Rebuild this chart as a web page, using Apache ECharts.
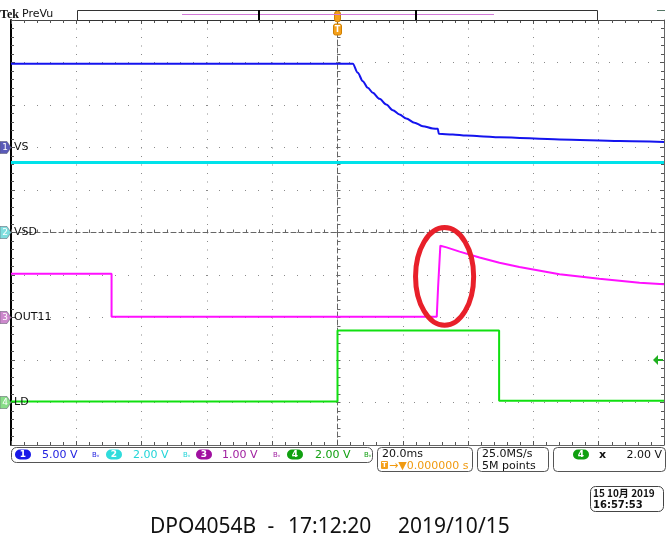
<!DOCTYPE html>
<html><head><meta charset="utf-8">
<script src="https://cdn.jsdelivr.net/npm/echarts@6/dist/echarts.min.js"></script>
<style>html,body{margin:0;padding:0;background:#fff}#c{width:666px;height:545px}</style>
</head><body><div id="c"></div>
<script>
// Horizontal: 20.0 ms/div, trigger at 0 ms. Vertical: divisions (-5..5)
const timeRange = [-100, 100];
const divRange = [-5, 5];

// CH1 (VS) 5.00 V/div, marker at +2 div
const ch1Time = [-100, 4.69, 6.22, 7.75, 9.28, 10.81, 12.86, 14.92, 16.94, 18.99, 21.04, 23.59, 26.13, 29.19, 30.72, 31.03, 35.31, 39.42, 43.49, 49.62, 68.0, 86.4, 100];
const ch1Volt = [9.85, 9.85, 8.79, 7.80, 7.02, 6.44, 5.73, 5.06, 4.39, 3.88, 3.41, 2.91, 2.51, 2.24, 2.20, 1.61, 1.53, 1.41, 1.33, 1.21, 0.94, 0.76, 0.65];
// CH2 (VSD) 2.00 V/div, marker at 0 div
const ch2Time = [-100, 100];
const ch2Volt = [3.3, 3.3];
// CH3 (OUT11) 1.00 V/div, marker at -2 div
const ch3Time = [-100, -69.2, -69.2, 30.4, 30.7, 30.8, 31.5, 33.4, 37.4, 43.5, 49.6, 55.7, 68.0, 80.2, 92.5, 100];
const ch3Volt = [1.03, 1.03, 0.02, 0.02, 0.05, 0.70, 1.69, 1.65, 1.55, 1.41, 1.29, 1.19, 1.02, 0.91, 0.82, 0.78];
// CH4 (LD) 2.00 V/div, marker at -4 div
const ch4Time = [-100, 0, 0, 49.5, 49.5, 100];
const ch4Volt = [0.05, 0.05, 3.39, 3.39, 0.08, 0.08];

const channels = [
  {name: 'VS',    num: '1', scale: 5, offset: 2,  color: '#1414ee', marker: '#5a5ab8', width: 2, smooth: 0.3, t: ch1Time, v: ch1Volt},
  {name: 'VSD',   num: '2', scale: 2, offset: 0,  color: '#00e2ea', marker: '#7fdede', width: 3, smooth: 0, t: ch2Time, v: ch2Volt},
  {name: 'OUT11', num: '3', scale: 1, offset: -2, color: '#ff10ff', marker: '#cc88cc', width: 2, smooth: 0, t: ch3Time, v: ch3Volt},
  {name: 'LD',    num: '4', scale: 2, offset: -4, color: '#10e010', marker: '#88dd88', width: 2, smooth: 0, t: ch4Time, v: ch4Volt}
];
const statusScales = ['5.00 V', '2.00 V', '1.00 V', '2.00 V'];
const statusColors = ['#2222e0', '#22d4d8', '#a020a0', '#12a012'];
const badgeColors = ['#1818e8', '#30dcdc', '#a010a0', '#10a010'];
const triggerLevelVolt = 2.0; // CH4
const circleCenter = [32.8, -1.035];
const circleRadius = [8.9, 1.15];

const chart = echarts.init(document.getElementById('c'), null, {renderer: 'canvas'});

function xAx(extra) {
  return Object.assign({
    type: 'value', min: timeRange[0], max: timeRange[1], interval: 20,
    axisLabel: {show: false}, splitLine: {show: false},
    axisTick: {show: true, inside: true, length: 4, lineStyle: {color: '#555'}},
    minorTick: {show: true, splitNumber: 5, length: 3, lineStyle: {color: '#555'}}
  }, extra);
}
function yAx(extra) {
  return Object.assign({
    type: 'value', min: divRange[0], max: divRange[1], interval: 1,
    axisLabel: {show: false}, splitLine: {show: false},
    axisTick: {show: true, inside: true, length: 4, lineStyle: {color: '#555'}},
    minorTick: {show: true, splitNumber: 5, length: 3, lineStyle: {color: '#555'}}
  }, extra);
}

const series = channels.map(ch => ({
  type: 'line', name: ch.name, xAxisIndex: 0, yAxisIndex: 0,
  showSymbol: false, animation: false, silent: true,
  smooth: ch.smooth, smoothMonotone: 'x',
  lineStyle: {color: ch.color, width: ch.width},
  data: ch.t.map((t, i) => [t, ch.v[i] / ch.scale + ch.offset])
}));
// draw order: cyan, blue, magenta, green
const ordered = [series[1], series[0], series[2], series[3]];

chart.setOption({
  backgroundColor: '#fff',
  animation: false,
  grid: {left: 11, right: 2, top: 20, bottom: 100, show: false},
  xAxis: [
    xAx({position: 'bottom', axisLine: {show: true, onZero: false, lineStyle: {color: '#666', width: 1}},
      splitLine: {show: true, lineStyle: {color: '#8a8a8a', type: [1, 7.5], width: 1}}}),
    xAx({position: 'top', axisLine: {show: true, onZero: false, lineStyle: {color: '#444', width: 1}}}),
    xAx({axisLine: {show: true, onZero: true, onZeroAxisIndex: 0, lineStyle: {color: '#666', type: [5, 3], width: 1}},
      axisTick: {show: true, inside: false, length: 3, lineStyle: {color: '#666'}},
      minorTick: {show: true, splitNumber: 5, length: 3, lineStyle: {color: '#666'}}})
  ],
  yAxis: [
    yAx({position: 'left', axisLine: {show: true, onZero: false, lineStyle: {color: '#000', width: 2}},
      splitLine: {show: true, lineStyle: {color: '#8a8a8a', type: [1, 12], width: 1}}}),
    yAx({position: 'right', axisLine: {show: true, onZero: false, lineStyle: {color: '#666', width: 1}}}),
    yAx({axisLine: {show: true, onZero: true, onZeroAxisIndex: 0, lineStyle: {color: '#666', type: [5, 3], width: 1}},
      axisTick: {show: true, inside: false, length: 3, lineStyle: {color: '#666'}},
      minorTick: {show: true, splitNumber: 5, length: 3, lineStyle: {color: '#666'}}})
  ],
  series: ordered
});

function px(t, d) { return chart.convertToPixel({xAxisIndex: 0, yAxisIndex: 0}, [t, d]); }

const g = [];
const baseFont = 'DejaVu Sans';
function txt(x, y, s, opt) {
  opt = opt || {};
  g.push({type: 'text', x: x, y: y, z: 100, silent: true, style: Object.assign({
    text: s, fill: '#000', font: '11px "' + baseFont + '"', verticalAlign: 'middle', align: 'left'
  }, opt)});
}
function rect(x, y, w, h, style, r) {
  g.push({type: 'rect', z: 90, silent: true, shape: {x: x, y: y, width: w, height: h, r: r || 0}, style: style});
}
function line(x1, y1, x2, y2, stroke, w) {
  g.push({type: 'line', z: 95, silent: true, shape: {x1: x1, y1: y1, x2: x2, y2: y2}, style: {stroke: stroke, lineWidth: w || 1}});
}

// Top bar
txt(0, 15, 'Tek', {font: 'bold 12px "Liberation Serif"', fill: '#111'});
txt(22, 14, 'PreVu', {font: '11px "DejaVu Sans"', fill: '#111'});
rect(77.5, 10.5, 520, 10, {fill: 'none', stroke: '#333', lineWidth: 1});
line(182, 14.5, 494, 14.5, '#d27ad8', 1);
line(259, 10, 259, 20, '#000', 2);
line(416, 10, 416, 20, '#000', 2);
line(657, 10.5, 665, 10.5, '#557766', 1);

// Trigger position marker (orange)
const tp = px(0, 5);
rect(tp[0] - 3, 11, 6, 11, {fill: '#f5a01a', stroke: '#d08000'}, 3);
rect(tp[0] - 4, 24, 8, 11, {fill: '#f5a01a', stroke: '#d08000'}, 2);
txt(tp[0], 29.5, 'T', {font: 'bold 8px "DejaVu Sans"', fill: '#fff', align: 'center'});

// Channel markers and labels
channels.forEach(ch => {
  const p = px(timeRange[0], ch.offset);
  const y = p[1];
  g.push({type: 'polygon', z: 100, silent: true,
    shape: {points: [[0, y - 6], [7, y - 6], [11, y], [7, y + 6], [0, y + 6]]},
    style: {fill: ch.marker, stroke: '#556', lineWidth: 0.5}});
  txt(5, y + 0.5, ch.num, {font: '9px "DejaVu Sans"', fill: '#fff', align: 'center'});
  txt(14, y, ch.name, {font: '11px "DejaVu Sans"', fill: '#111'});
});

// Trigger level arrow (CH4) on right edge
const tl = px(timeRange[1], triggerLevelVolt / channels[3].scale + channels[3].offset);
g.push({type: 'polygon', z: 100, silent: true,
  shape: {points: [[tl[0] - 11, tl[1]], [tl[0] - 6, tl[1] - 5], [tl[0] - 6, tl[1] + 5]]},
  style: {fill: '#20b020'}});
line(tl[0] - 7, tl[1], tl[0] - 1, tl[1], '#20b020', 2);

// Red ellipse annotation
const ec = px(circleCenter[0], circleCenter[1]);
const ex = px(circleCenter[0] + circleRadius[0], circleCenter[1] + circleRadius[1]);
g.push({type: 'ellipse', z: 110, silent: true,
  shape: {cx: ec[0], cy: ec[1], rx: Math.abs(ex[0] - ec[0]), ry: Math.abs(ex[1] - ec[1])},
  style: {fill: 'none', stroke: '#e8202a', lineWidth: 5}});

// Status bar: channel scales
rect(11.5, 447.5, 361, 15, {fill: '#fff', stroke: '#555', lineWidth: 1}, 5);
const badgeX = [15, 106, 196, 287];
const textX = [42, 133, 222, 315];
const bwX = [92, 183, 273, 364];
for (let i = 0; i < 4; i++) {
  rect(badgeX[i], 449.5, 16, 10, {fill: badgeColors[i]}, 5);
  txt(badgeX[i] + 8, 455, String(i + 1), {font: 'bold 9px "DejaVu Sans"', fill: '#fff', align: 'center'});
  txt(textX[i], 455, statusScales[i], {fill: statusColors[i]});
  txt(bwX[i], 455, 'Bᵥ', {font: '7px "DejaVu Sans"', fill: statusColors[i]});
}
// Timebase box
rect(377.5, 447.5, 95, 24, {fill: '#fff', stroke: '#555', lineWidth: 1}, 4);
txt(382, 454, '20.0ms', {fill: '#111'});
rect(381, 461, 7, 8, {fill: '#f5a01a'}, 1);
txt(384.5, 465.5, 'T', {font: 'bold 7px "DejaVu Sans"', fill: '#fff', align: 'center'});
txt(389, 466, '→▼0.000000 s', {fill: '#f09a10'});
// Sample rate box
rect(477.5, 447.5, 71, 24, {fill: '#fff', stroke: '#555', lineWidth: 1}, 4);
txt(482, 454, '25.0MS/s', {fill: '#111'});
txt(482, 466, '5M points', {fill: '#111'});
// Trigger box
rect(553.5, 447.5, 112, 24, {fill: '#fff', stroke: '#555', lineWidth: 1}, 4);
rect(573, 449.5, 16, 10, {fill: '#10a010'}, 5);
txt(581, 455, '4', {font: 'bold 9px "DejaVu Sans"', fill: '#fff', align: 'center'});
txt(599, 455, 'x', {font: 'bold 11px "DejaVu Sans"', fill: '#111'});
txt(662, 455, '2.00 V', {fill: '#111', align: 'right'});
// Date box
rect(590.5, 486.5, 73, 25, {fill: '#fff', stroke: '#444', lineWidth: 1}, 5);
txt(593, 493, '15 10月 2019', {font: 'bold 10px "Noto Sans CJK JP"', fill: '#111'});
txt(593, 505, '16:57:53', {font: 'bold 10px "DejaVu Sans"', fill: '#111'});
// Caption (placed piecewise to keep the original wide spacing)
const capFont = '21px "Noto Sans"';
txt(150, 527, 'DPO4054B', {font: capFont, fill: '#111'});
txt(271, 527, '-', {font: capFont, fill: '#111', align: 'center'});
txt(288, 527, '17:12:20', {font: capFont, fill: '#111'});
txt(398, 527, '2019/10/15', {font: capFont, fill: '#111'});

chart.setOption({graphic: {elements: g}});
</script>
</body></html>
